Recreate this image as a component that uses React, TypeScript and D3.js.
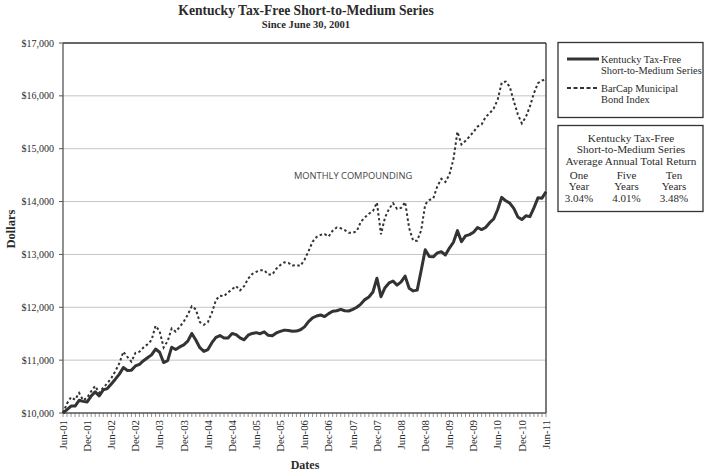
import React from 'react';
import * as d3 from 'd3';

const kentucky = [
  10000, 10065, 10132, 10132, 10240, 10220, 10210, 10320, 10400, 10325,
  10437, 10462, 10550, 10640, 10735, 10860, 10805, 10811, 10890, 10922,
  10990, 11045, 11100, 11210, 11150, 10955, 10990, 11245, 11200, 11250,
  11290, 11360, 11505, 11380, 11235, 11165, 11200, 11330, 11430, 11465,
  11420, 11420, 11505, 11483, 11420, 11385, 11472, 11505, 11520, 11500,
  11535, 11470, 11460, 11515, 11545, 11568, 11560, 11545, 11550, 11575,
  11630, 11730, 11800, 11835, 11854, 11825, 11880, 11925, 11935, 11962,
  11935, 11930, 11960, 12000, 12060, 12145, 12195, 12290, 12550, 12200,
  12370, 12460, 12495, 12420, 12480, 12590, 12360, 12310, 12325, 12700,
  13090, 12960, 12955, 13030, 13050, 12990, 13120, 13230, 13450, 13240,
  13350, 13375, 13420, 13510, 13470, 13510, 13600, 13670, 13850, 14080,
  14015, 13970, 13870, 13710, 13660, 13730, 13715, 13880, 14070, 14065,
  14186,
];

const barcap = [
  10000, 10180, 10300, 10250, 10380, 10240, 10290, 10410, 10510, 10380,
  10480, 10560, 10660, 10790, 10940, 11160, 11060, 10970, 11140, 11160,
  11240, 11300, 11380, 11650, 11550, 11240, 11360, 11600, 11540, 11630,
  11730, 11860, 12020, 11960, 11720, 11670, 11720, 11900, 12140, 12220,
  12210, 12280, 12340, 12400, 12320, 12400, 12540, 12630, 12670, 12700,
  12700, 12620, 12620, 12730, 12800, 12850, 12840, 12790, 12800, 12785,
  12900, 13060, 13240, 13330, 13370, 13385, 13340, 13450, 13510, 13495,
  13460, 13410, 13410, 13440, 13620, 13700, 13770, 13820, 13980, 13380,
  13700, 13860, 13970, 13860, 13880, 13990, 13500, 13260, 13260, 13460,
  13950, 14030, 14060, 14290, 14430, 14370, 14510, 14800, 15320, 15080,
  15150, 15230, 15320, 15420, 15460, 15600, 15670, 15760, 15930, 16250,
  16270, 16170, 15900, 15650, 15480, 15600, 15800, 16050, 16240, 16290,
  16310,
];

const xTickLabels = [
  'Jun-01', 'Dec-01', 'Jun-02', 'Dec-02', 'Jun-03', 'Dec-03', 'Jun-04',
  'Dec-04', 'Jun-05', 'Dec-05', 'Jun-06', 'Dec-06', 'Jun-07', 'Dec-07',
  'Jun-08', 'Dec-08', 'Jun-09', 'Dec-09', 'Jun-10', 'Dec-10', 'Jun-11',
];

const yTicks = [10000, 11000, 12000, 13000, 14000, 15000, 16000, 17000];

const legendLabels = [
  ['Kentucky Tax-Free', 'Short-to-Medium Series'],
  ['BarCap Municipal', 'Bond Index'],
];

const returnHeads = ['Kentucky Tax-Free', 'Short-to-Medium Series', 'Average Annual Total Return'];
const returnPeriods = [['One', 'Year'], ['Five', 'Years'], ['Ten', 'Years']];
const returnValues = ['3.04%', '4.01%', '3.48%'];

const W = 707;
const H = 475;
const plot = { left: 63, right: 546, top: 43, bottom: 413 };
const serif = '"Liberation Serif", "Times New Roman", serif';
const ink = '#2b2b2b';

export default function App() {
  const x = d3.scaleLinear().domain([0, kentucky.length - 1]).range([plot.left, plot.right]);
  const y = d3.scaleLinear().domain([10000, 17000]).range([plot.bottom, plot.top]);
  const line = d3.line<number>().x((_, i) => x(i)).y((d) => y(d));
  const fmt = (v: number) => '$' + d3.format(',')(v);
  const months = d3.range(kentucky.length);

  return (
    <svg width={W} height={H} style={{ position: 'absolute', left: 0, top: 0, background: '#fff' }} fontFamily={serif}>
      <rect width={W} height={H} fill="#fff" />
      {/* title */}
      <text x={306} y={15} textAnchor="middle" fontWeight="bold" fontSize={13.6} fill={ink}>
        Kentucky Tax-Free Short-to-Medium Series
      </text>
      <text x={306} y={27.5} textAnchor="middle" fontWeight="bold" fontSize={10.6} fill={ink}>
        Since June 30, 2001
      </text>

      {/* gridlines */}
      {yTicks.slice(1, -1).map((t) => (
        <line key={t} x1={plot.left} x2={plot.right} y1={y(t)} y2={y(t)} stroke="#c4c4c4" strokeWidth={1} />
      ))}

      {/* y ticks and labels */}
      {yTicks.map((t) => (
        <g key={t}>
          <line x1={plot.left - 4} x2={plot.left} y1={y(t)} y2={y(t)} stroke="#555" strokeWidth={1} />
          <text x={54} y={y(t)} dy="0.35em" textAnchor="end" fontSize={10} fill={ink}>
            {fmt(t)}
          </text>
        </g>
      ))}

      {/* x minor ticks */}
      {months.map((i) => (
        <line key={i} x1={x(i)} x2={x(i)} y1={plot.bottom} y2={plot.bottom + 4} stroke="#777" strokeWidth={0.8} />
      ))}
      {xTickLabels.map((lab, k) => (
        <text key={lab} transform={`translate(${x(k * 6)},${plot.bottom + 7}) rotate(-90)`} dy="0.35em" textAnchor="end" fontSize={10.8} fill={ink}>
          {lab}
        </text>
      ))}

      {/* frame */}
      <line x1={plot.left} x2={plot.right} y1={plot.top} y2={plot.top} stroke="#333" strokeWidth={1.3} />
      <line x1={plot.right} x2={plot.right} y1={plot.top} y2={plot.bottom} stroke="#333" strokeWidth={1.3} />
      <line x1={plot.left} x2={plot.left} y1={plot.top} y2={plot.bottom} stroke="#555" strokeWidth={1.3} />
      <line x1={plot.left} x2={plot.right} y1={plot.bottom} y2={plot.bottom} stroke="#555" strokeWidth={1.3} />

      {/* series */}
      <path d={line(barcap) || ''} fill="none" stroke="#333" strokeWidth={2} strokeDasharray="2.5,2.5" />
      <path d={line(kentucky) || ''} fill="none" stroke="#333" strokeWidth={3} strokeLinejoin="round" />

      <text x={294} y={179} fontFamily='"Open Sans", sans-serif' fontSize={9.3} fill="#444">
        MONTHLY COMPOUNDING
      </text>

      {/* axis titles */}
      <text x={305} y={469} textAnchor="middle" fontWeight="bold" fontSize={12} fill={ink}>
        Dates
      </text>
      <text transform="translate(11,229) rotate(-90)" dy="0.35em" textAnchor="middle" fontWeight="bold" fontSize={12.5} fill={ink}>
        Dollars
      </text>

      {/* legend box */}
      <rect x={558} y={42.5} width={145} height={75} fill="#fff" stroke="#333" strokeWidth={1.3} />
      <line x1={567} x2={599} y1={59} y2={59} stroke="#333" strokeWidth={3} />
      <line x1={567} x2={599} y1={88} y2={88} stroke="#333" strokeWidth={2} strokeDasharray="4,2.5" />
      {legendLabels.map((lines, k) => (
        <text key={k} x={601} y={k === 0 ? 59 : 88} fontSize={10.4} fill={ink}>
          {lines.map((l, j) => (
            <tspan key={j} x={601} dy={j === 0 ? '0.35em' : '11.5'}>{l}</tspan>
          ))}
        </text>
      ))}

      {/* returns box */}
      <rect x={558} y={125.5} width={145} height={86} fill="#fff" stroke="#333" strokeWidth={1.3} />
      {returnHeads.map((t, k) => (
        <text key={t} x={631} y={138 + k * 11.5} dy="0.35em" textAnchor="middle" fontSize={11.2} fill={ink}>
          {t}
        </text>
      ))}
      {returnPeriods.map((p, k) => (
        <g key={k}>
          {p.map((t, j) => (
            <text key={j} x={579 + k * 47.5} y={175 + j * 11.5} dy="0.35em" textAnchor="middle" fontSize={11} fill={ink}>
              {t}
            </text>
          ))}
          <text x={579 + k * 47.5} y={198} dy="0.35em" textAnchor="middle" fontSize={11} fill={ink}>
            {returnValues[k]}
          </text>
        </g>
      ))}
    </svg>
  );
}
